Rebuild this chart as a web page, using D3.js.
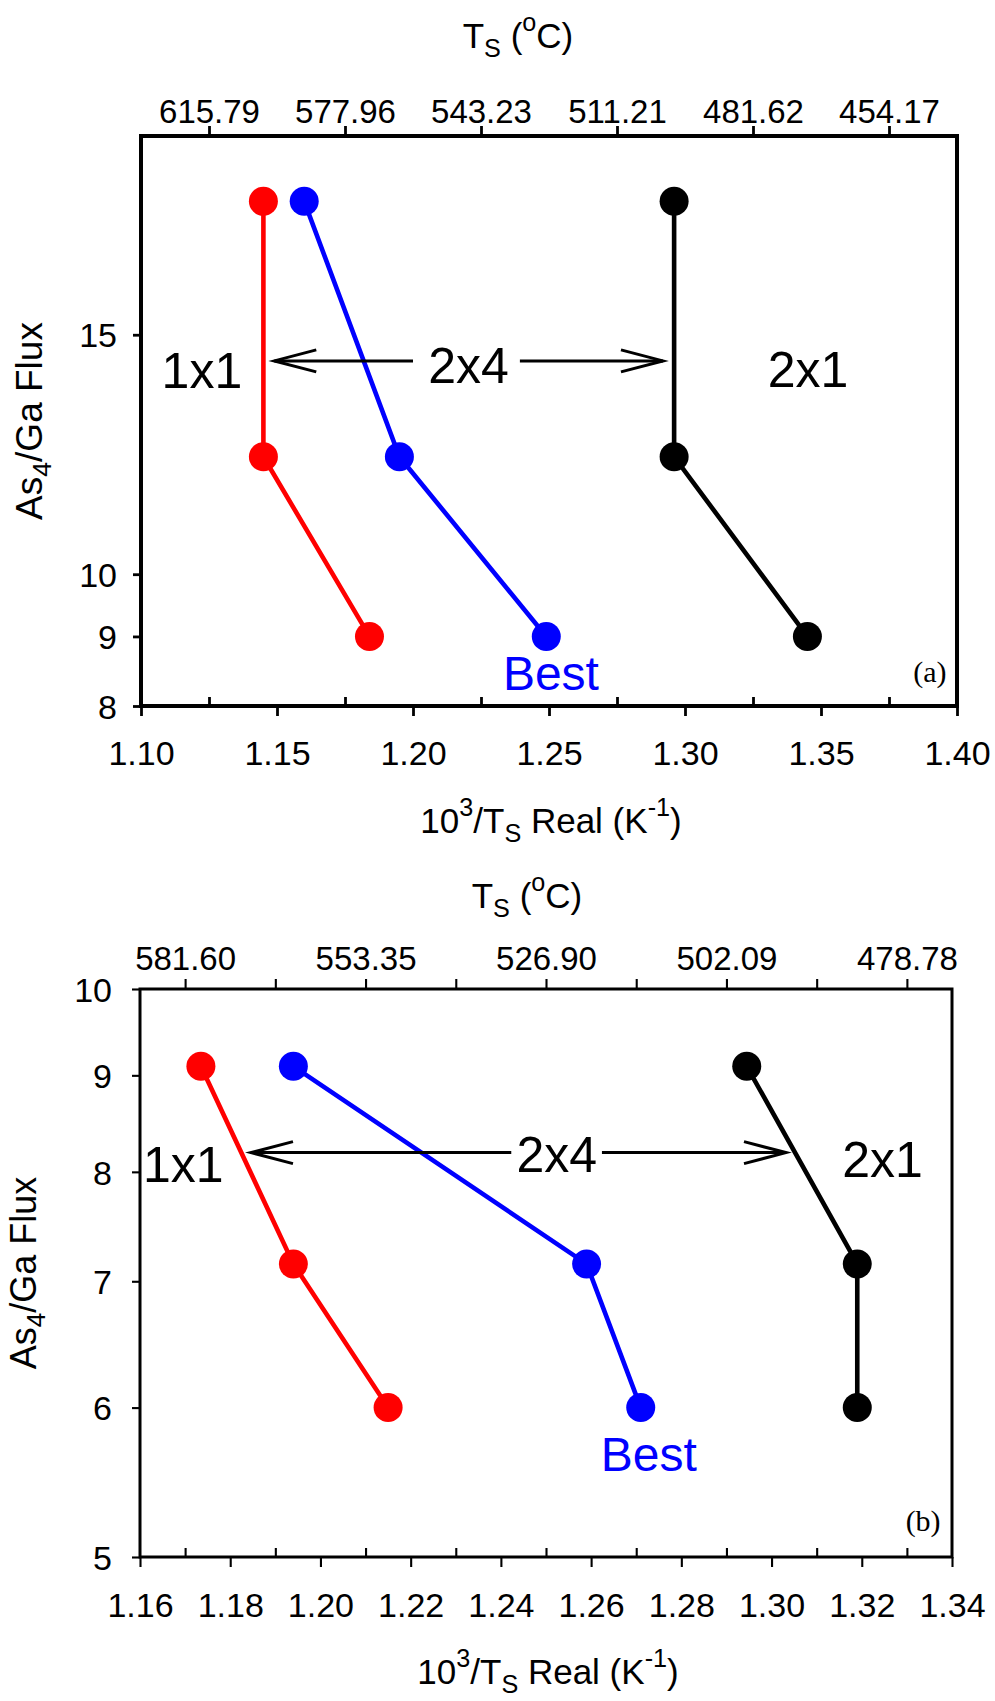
<!DOCTYPE html>
<html>
<head>
<meta charset="utf-8">
<script src="https://cdn.jsdelivr.net/npm/d3@7"></script>
<style>
  body { margin: 0; background: #fff; }
  svg { display: block; }
</style>
</head>
<body>
<svg id="chart" width="995" height="1701"></svg>
<script>
// ---------- Panel (a): As4/Ga flux vs inverse substrate temperature ----------
const fluxA = [18.8, 12.2, 9];
const invT_redA = [1.145, 1.145, 1.184];
const invT_blueA = [1.160, 1.195, 1.249];
const invT_blackA = [1.296, 1.296, 1.345];
const bottomMajorA = [1.10, 1.15, 1.20, 1.25, 1.30, 1.35, 1.40];
const bottomMinorA = [1.125, 1.175, 1.225, 1.275, 1.325, 1.375];
const topTickValuesA = [1.125, 1.175, 1.225, 1.275, 1.325, 1.375];
const topTickLabelsA = ["615.79", "577.96", "543.23", "511.21", "481.62", "454.17"];
const leftTicksA = [8, 9, 10, 15];
const leftTickLabelsA = ["8", "9", "10", "15"];

// ---------- Panel (b) ----------
const fluxB = [9.1, 7.15, 6.0];
const invT_redB = [1.1735, 1.194, 1.215];
const invT_blueB = [1.194, 1.259, 1.271];
const invT_blackB = [1.2945, 1.319, 1.319];
const bottomMajorB = [1.16, 1.18, 1.20, 1.22, 1.24, 1.26, 1.28, 1.30, 1.32, 1.34];
const bottomMinorB = [1.17, 1.19, 1.21, 1.23, 1.25, 1.27, 1.29, 1.31, 1.33];
const topTickValuesB = [1.17, 1.19, 1.21, 1.23, 1.25, 1.27, 1.29, 1.31, 1.33];
const topTickLabelsB = ["581.60", "", "553.35", "", "526.90", "", "502.09", "", "478.78"];
const leftTicksB = [5, 6, 7, 8, 9, 10];
const leftTickLabelsB = ["5", "6", "7", "8", "9", "10"];

// Reconstruction regions and arrows (x in 10^3/K, y in flux ratio)
const regionLabelsA = [
  { text: "1x1", x: 1.1224, y: 13.71, color: "#000", size: 50 },
  { text: "2x4", x: 1.2204, y: 13.82, color: "#000", size: 50 },
  { text: "2x1", x: 1.3452, y: 13.74, color: "#000", size: 50 },
  { text: "Best", x: 1.2507, y: 8.22, color: "#0000ff", size: 48 }
];
const arrowsA = [
  { from: 1.2000, to: 1.1490, y: 14.35 },
  { from: 1.2393, to: 1.2919, y: 14.35 }
];
const regionLabelsB = [
  { text: "1x1", x: 1.1696, y: 7.90, color: "#000", size: 50 },
  { text: "2x4", x: 1.2524, y: 8.00, color: "#000", size: 50 },
  { text: "2x1", x: 1.3246, y: 7.95, color: "#000", size: 50 },
  { text: "Best", x: 1.2728, y: 5.55, color: "#0000ff", size: 48 }
];
const arrowsB = [
  { from: 1.2423, to: 1.1846, y: 8.19 },
  { from: 1.2624, to: 1.3032, y: 8.19 }
];

const SANS = "'Liberation Sans', Arial, sans-serif";
const SERIF = "'Liberation Serif', 'Times New Roman', serif";
const svg = d3.select("#chart");

// Writes a run of normal / sub / sup segments into a text element.
function richText(sel, parts, size) {
  let shift = 0;
  parts.forEach(p => {
    let target = 0, fs = size;
    if (p.m === "sub") { target = 0.25 * size; fs = 0.72 * size; }
    if (p.m === "sup") { target = -0.5 * size; fs = 0.72 * size; }
    sel.append("tspan")
      .attr("dy", target - shift)
      .attr("font-size", fs)
      .text(p.t);
    shift = target;
  });
}

function drawPanel(cfg) {
  const x = d3.scaleLinear().domain(cfg.xDomain).range(cfg.xRange);
  const y = d3.scaleLog().domain(cfg.yDomain).range(cfg.yRange);
  const g = svg.append("g");
  const [x0, x1] = cfg.xRange;
  const [yb, yt] = cfg.yRange;
  const aw = cfg.axisWidth;

  // plot frame
  g.append("rect")
    .attr("x", x0).attr("y", yt)
    .attr("width", x1 - x0).attr("height", yb - yt)
    .attr("fill", "none").attr("stroke", "#000").attr("stroke-width", aw);

  const styleAxis = (a) => {
    a.select(".domain").remove();
    a.selectAll(".tick line").attr("stroke", "#000").attr("stroke-width", aw * 0.7);
    a.selectAll("text").attr("fill", "#000").attr("font-family", SANS);
  };

  // bottom axis: labelled majors outside, minors inside
  const bMaj = g.append("g").attr("transform", `translate(0,${yb})`)
    .call(d3.axisBottom(x).tickValues(cfg.bottomMajor).tickSize(10)
      .tickFormat(d3.format(".2f")));
  styleAxis(bMaj);
  bMaj.selectAll("text").attr("font-size", cfg.tickFont).attr("dy", null)
    .attr("y", cfg.bottomLabelBaseline);
  const bMin = g.append("g").attr("transform", `translate(0,${yb})`)
    .call(d3.axisBottom(x).tickValues(cfg.bottomMinor).tickSize(-9).tickFormat(""));
  styleAxis(bMin);

  // top axis in degrees Celsius
  const tAx = g.append("g").attr("transform", `translate(0,${yt})`)
    .call(d3.axisTop(x).tickValues(cfg.topTickValues).tickSize(10)
      .tickFormat((d, i) => cfg.topTickLabels[i]));
  styleAxis(tAx);
  tAx.selectAll("text").attr("font-size", cfg.topTickFont).attr("dy", null)
    .attr("y", cfg.topLabelBaseline);

  // left axis (log)
  const lAx = g.append("g").attr("transform", `translate(${x0},0)`)
    .call(d3.axisLeft(y).tickValues(cfg.leftTicks).tickSize(8)
      .tickFormat((d, i) => cfg.leftTickLabels[i]));
  styleAxis(lAx);
  lAx.selectAll("text").attr("font-size", cfg.tickFont).attr("x", cfg.leftLabelX)
    .attr("dy", "0.36em");

  // axis titles
  const topTitle = g.append("text").attr("x", cfg.topTitleX).attr("y", cfg.topTitleY)
    .attr("text-anchor", "middle").attr("font-family", SANS).attr("font-size", cfg.titleFont);
  richText(topTitle, [{ t: "T" }, { t: "S", m: "sub" }, { t: " (" }, { t: "o", m: "sup" }, { t: "C)" }], cfg.titleFont);

  const botTitle = g.append("text").attr("x", cfg.botTitleX).attr("y", cfg.botTitleY)
    .attr("text-anchor", "middle").attr("font-family", SANS).attr("font-size", cfg.titleFont);
  richText(botTitle, [{ t: "10" }, { t: "3", m: "sup" }, { t: "/T" }, { t: "S", m: "sub" },
    { t: " Real (K" }, { t: "-1", m: "sup" }, { t: ")" }], cfg.titleFont);

  const leftTitle = g.append("text")
    .attr("transform", `translate(${cfg.leftTitleX},${(yb + yt) / 2}) rotate(-90)`)
    .attr("text-anchor", "middle").attr("font-family", SANS).attr("font-size", cfg.leftTitleFont);
  richText(leftTitle, [{ t: "As" }, { t: "4", m: "sub" }, { t: "/Ga Flux" }], cfg.leftTitleFont);

  // series lines and markers
  const line = d3.line().x(d => x(d[0])).y(d => y(d[1]));
  cfg.series.forEach(s => {
    const pts = s.x.map((v, i) => [v, cfg.flux[i]]);
    g.append("path").attr("d", line(pts)).attr("fill", "none")
      .attr("stroke", s.color).attr("stroke-width", 4.6);
    g.selectAll(null).data(pts).enter().append("circle")
      .attr("cx", d => x(d[0])).attr("cy", d => y(d[1]))
      .attr("r", 14.5).attr("fill", s.color);
  });

  // phase-boundary arrows
  cfg.arrows.forEach(a => {
    const xa = x(a.from), xb = x(a.to), ya = y(a.y);
    const dir = Math.sign(xb - xa);
    g.append("line").attr("x1", xa).attr("x2", xb).attr("y1", ya).attr("y2", ya)
      .attr("stroke", "#000").attr("stroke-width", 3);
    const p = d3.path();
    p.moveTo(xb - dir * 42, ya - 11); p.lineTo(xb, ya); p.lineTo(xb - dir * 42, ya + 11);
    g.append("path").attr("d", p.toString()).attr("fill", "none")
      .attr("stroke", "#000").attr("stroke-width", 3);
  });

  // region labels
  cfg.labels.forEach(l => {
    g.append("text").attr("x", x(l.x)).attr("y", y(l.y))
      .attr("text-anchor", "middle").attr("font-family", SANS)
      .attr("font-size", l.size).attr("fill", l.color).text(l.text);
  });

  // panel tag
  g.append("text").attr("x", x(cfg.tag.x)).attr("y", y(cfg.tag.y))
    .attr("text-anchor", "middle").attr("font-family", SERIF)
    .attr("font-size", 30).attr("fill", "#000").text(cfg.tag.text);
}

drawPanel({
  xDomain: [1.10, 1.40], xRange: [141, 957],
  yDomain: [8, 21], yRange: [706, 136],
  axisWidth: 4,
  flux: fluxA,
  series: [
    { x: invT_redA, color: "#ff0000" },
    { x: invT_blueA, color: "#0000ff" },
    { x: invT_blackA, color: "#000000" }
  ],
  bottomMajor: bottomMajorA, bottomMinor: bottomMinorA,
  topTickValues: topTickValuesA, topTickLabels: topTickLabelsA,
  leftTicks: leftTicksA, leftTickLabels: leftTickLabelsA,
  tickFont: 34, topTickFont: 33,
  bottomLabelBaseline: 59, topLabelBaseline: -13, leftLabelX: -24,
  titleFont: 35, leftTitleFont: 37,
  topTitleX: 518, topTitleY: 48,
  botTitleX: 551, botTitleY: 833,
  leftTitleX: 42,
  arrows: arrowsA, labels: regionLabelsA,
  tag: { text: "(a)", x: 1.390, y: 8.33 }
});

drawPanel({
  xDomain: [1.16, 1.34], xRange: [140, 952],
  yDomain: [5, 10], yRange: [1557, 989],
  axisWidth: 3,
  flux: fluxB,
  series: [
    { x: invT_redB, color: "#ff0000" },
    { x: invT_blueB, color: "#0000ff" },
    { x: invT_blackB, color: "#000000" }
  ],
  bottomMajor: bottomMajorB, bottomMinor: bottomMinorB,
  topTickValues: topTickValuesB, topTickLabels: topTickLabelsB,
  leftTicks: leftTicksB, leftTickLabels: leftTickLabelsB,
  tickFont: 34, topTickFont: 33,
  bottomLabelBaseline: 60, topLabelBaseline: -19, leftLabelX: -28,
  titleFont: 35, leftTitleFont: 36,
  topTitleX: 527, topTitleY: 908,
  botTitleX: 548, botTitleY: 1684,
  leftTitleX: 36,
  arrows: arrowsB, labels: regionLabelsB,
  tag: { text: "(b)", x: 1.3336, y: 5.162 }
});
</script>
</body>
</html>
